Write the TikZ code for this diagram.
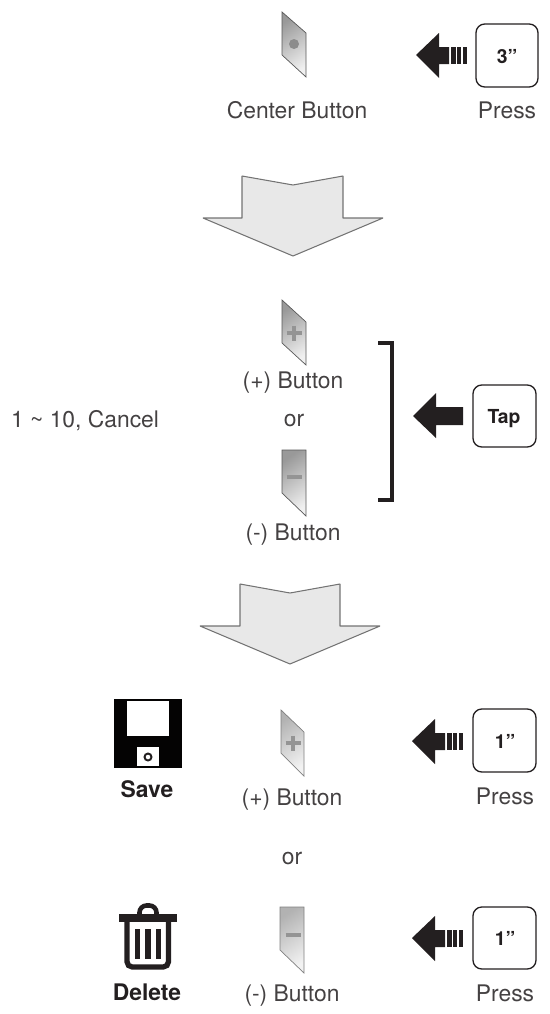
\documentclass[tikz,border=0pt]{standalone}
\usepackage{fontspec}
\setmainfont{TeX Gyre Heros}
\usepackage{xcolor}
\usepackage{tikz}
\usetikzlibrary{calc,positioning}
\definecolor{inkdark}{HTML}{231F20}
\tikzset{
  caption/.style={text=inkdark!85, font=\fontsize{13}{15}\selectfont, inner sep=0pt, anchor=base},
  iconlabel/.style={text=inkdark, font=\fontsize{13}{15}\selectfont\bfseries, inner sep=0pt, anchor=base},
  keylabel/.style={text=inkdark, font=\fontsize{11}{13}\selectfont\bfseries, inner sep=0pt, anchor=base},
  keybox/.style={draw=inkdark, line width=0.75pt, rounded corners=5pt},
  buttonface/.style={draw=black!65, line width=0.4pt, shading=axis, top color=black!40, bottom color=black!6, shading angle=35},
  buttonpale/.style={draw=black!50, line width=0.4pt, shading=axis, top color=black!30, bottom color=black!5, shading angle=35},
  buttonmark/.style={draw=black!42, line width=2.2pt},
  downarrow/.style={draw=black!55, fill=black!9, line width=0.6pt, line join=bevel},
  pressbar/.style={fill=inkdark},
}
\begin{document}
\begin{tikzpicture}[x=0.02cm, y=-0.02cm]
\useasboundingbox (0,0) rectangle (549,1014);

% ---------------- 1. CENTER BUTTON ROW ----------------
\path[buttonface] (282,12) -- (306,33) -- (306,77) -- (282,55) -- cycle;
\fill[black!45] (294,44) circle (5);
\node[caption] (center label) at (297,118) {Center Button};

\fill[pressbar] (416,55) -- (439,33) -- (439,47) -- (449,47) -- (449,64) -- (439,64) -- (439,78) -- cycle;
\fill[pressbar] (451,47) rectangle (455.5,64);
\fill[pressbar] (457,47) rectangle (461,64);
\fill[pressbar] (462.5,47) rectangle (467,64);
\draw[keybox] (476,24) rectangle (538,87);
\node[keylabel] (key three) at (507,63) {3”};
\node[caption] (press top) at (507,118) {Press};

% ---------------- 2. DOWN ARROWS ----------------
\draw[downarrow] (242,176) -- (293,185) -- (343,176) -- (343,218) -- (383,218) -- (293,256) -- (203,218) -- (242,218) -- cycle;
\draw[downarrow] (240,584) -- (290,593) -- (340,584) -- (340,626) -- (380,626) -- (290,664) -- (200,626) -- (240,626) -- cycle;

% ---------------- 3. TAP ROW ----------------
\path[buttonface] (282,300) -- (306,322) -- (306,365) -- (282,343) -- cycle;
\draw[buttonmark] (286.5,333) -- (301.5,333);
\draw[buttonmark] (294,325.5) -- (294,340.5);
\node[caption] (plus label) at (293,388) {(+) Button};
\node[caption] (or label) at (294,426) {or};
\path[buttonface] (282,450) -- (306,450) -- (306,516) -- (282,493) -- cycle;
\draw[buttonmark] (286.5,477) -- (301.5,477);
\node[caption] (minus label) at (293,540) {(-) Button};
\node[caption] (count label) at (85,427) {1 \textasciitilde{} 10, Cancel};

% Bracket around both buttons
\draw[inkdark, line width=1.8pt] (378,343) -- (392,343) -- (392,500) -- (378,500);

\fill[pressbar] (413,416) -- (436,393) -- (436,407) -- (463,407) -- (463,425) -- (436,425) -- (436,438) -- cycle;
\draw[keybox] (473,385) rectangle (536,447);
\node[keylabel] (key tap) at (504,423) {Tap};

% ---------------- 4. SAVE ROW ----------------
\fill[black!90!inkdark] (114,699) rectangle (182,768);
\fill[white] (127,701) rectangle (169,736);
\fill[white] (137,747) rectangle (159,766);
\draw[inkdark, line width=1.1pt] (148,757) circle (3.5);
\node[iconlabel] (save label) at (147,797) {Save};

\path[buttonpale] (281,710) -- (304,732) -- (304,776) -- (281,753) -- cycle;
\draw[buttonmark] (285.5,743) -- (300.5,743);
\draw[buttonmark] (293,735.5) -- (293,750.5);
\node[caption] (plus save label) at (292,805) {(+) Button};
\node[caption] (or lower label) at (292,864) {or};

\fill[pressbar] (412,741) -- (435,719) -- (435,733) -- (445,733) -- (445,750) -- (435,750) -- (435,764) -- cycle;
\fill[pressbar] (447,733) rectangle (451.5,750);
\fill[pressbar] (453,733) rectangle (457,750);
\fill[pressbar] (458.5,733) rectangle (463,750);
\draw[keybox] (473,709) rectangle (536,772);
\node[keylabel] (key save) at (505,748) {1”};
\node[caption] (press save) at (505,804) {Press};

% ---------------- 5. DELETE ROW ----------------
\draw[inkdark, line width=3pt, rounded corners=3pt] (127,918) -- (127,967) -- (168.5,967) -- (168.5,918);
\draw[inkdark, line width=5pt] (119,918) -- (177,918);
\draw[inkdark, line width=2.6pt, rounded corners=4pt] (139.5,915) -- (139.5,905.5) -- (156.5,905.5) -- (156.5,915);
\fill[inkdark] (135,929) rectangle (140,959);
\fill[inkdark] (145,929) rectangle (151,959);
\fill[inkdark] (156,929) rectangle (161,959);
\node[iconlabel] (delete label) at (147,1000) {Delete};

\path[buttonpale] (280,907) -- (304,907) -- (304,973) -- (280,950) -- cycle;
\draw[buttonmark] (285.5,935) -- (300.5,935);
\node[caption] (minus delete label) at (292,1001) {(-) Button};

\fill[pressbar] (412,938) -- (435,916) -- (435,930) -- (445,930) -- (445,947) -- (435,947) -- (435,961) -- cycle;
\fill[pressbar] (447,930) rectangle (451.5,947);
\fill[pressbar] (453,930) rectangle (457,947);
\fill[pressbar] (458.5,930) rectangle (463,947);
\draw[keybox] (473,907) rectangle (536,969);
\node[keylabel] (key delete) at (505,945) {1”};
\node[caption] (press delete) at (505,1001) {Press};

\end{tikzpicture}
\end{document}
